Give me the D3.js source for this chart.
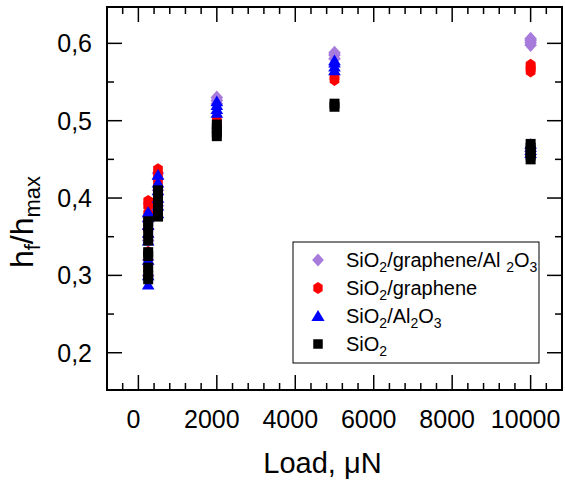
<!DOCTYPE html>
<html>
<head>
<meta charset="utf-8">
<script src="https://cdn.jsdelivr.net/npm/d3@7"></script>
<style>
  body { margin: 0; background: #fff; }
  text { font-family: "Liberation Sans", Arial, sans-serif; fill: #000; }
</style>
</head>
<body>
<svg width="565" height="483"></svg>
<script>
// loads in uN
var loads = [250, 500, 2000, 5000, 10000];
// h_f/h_max, one list per load
var sio2GrAl = [
  [0.30, 0.32, 0.345, 0.36, 0.375],
  [0.39, 0.41, 0.425, 0.432],
  [0.522, 0.526, 0.530],
  [0.580, 0.585, 0.588],
  [0.598, 0.601, 0.604, 0.606]
];
var sio2Gr = [
  [0.31, 0.33, 0.36, 0.38, 0.39, 0.396],
  [0.40, 0.42, 0.43, 0.437],
  [0.498, 0.503],
  [0.553, 0.557],
  [0.564, 0.567, 0.570, 0.572]
];
var sio2Al = [
  [0.288, 0.30, 0.32, 0.345, 0.355, 0.365, 0.375, 0.382],
  [0.38, 0.39, 0.40, 0.41, 0.42, 0.43],
  [0.510, 0.515, 0.520, 0.525],
  [0.565, 0.570, 0.575, 0.578],
  [0.458, 0.462, 0.466, 0.470]
];
var sio2 = [
  [0.295, 0.30, 0.31, 0.325, 0.33, 0.345, 0.355, 0.365, 0.37],
  [0.376, 0.385, 0.392, 0.40, 0.405, 0.41],
  [0.480, 0.485, 0.490, 0.495],
  [0.518, 0.522],
  [0.450, 0.455, 0.460, 0.465, 0.470]
];

var svg = d3.select("svg");
var pL = 107, pR = 562, pT = 7, pB = 390;

var x = d3.scaleLinear().domain([-800, 10800]).range([pL, pR]);
var y = d3.scaleLinear().domain([0.1518, 0.647]).range([pB, pT]);

// marker shapes
function diamond(s) { return "M0," + (-s) + "L" + (s * 0.9) + ",0L0," + s + "L" + (-s * 0.9) + ",0Z"; }
function hexagon(r) {
  var p = d3.path();
  for (var i = 0; i < 6; i++) {
    var a = Math.PI / 3 * i - Math.PI / 2;
    var px = Math.cos(a) * r * 0.9, py = Math.sin(a) * r;
    if (i == 0) p.moveTo(px, py); else p.lineTo(px, py);
  }
  p.closePath();
  return p.toString();
}
function triangle(w) { return "M0," + (-w * 0.5) + "L" + (w * 0.55) + "," + (w * 0.42) + "L" + (-w * 0.55) + "," + (w * 0.42) + "Z"; }
function square(w) { return "M" + (-w / 2) + "," + (-w / 2) + "h" + w + "v" + w + "h" + (-w) + "Z"; }

var series = [
  { data: sio2GrAl, color: "#A77BDB", shape: diamond(7), legShape: diamond(6.5) },
  { data: sio2Gr, color: "#FF0000", shape: hexagon(6.2), legShape: hexagon(6) },
  { data: sio2Al, color: "#0000FF", shape: triangle(11.5), legShape: triangle(12) },
  { data: sio2, color: "#000000", shape: square(10), legShape: square(9.5) }
];

series.forEach(function(s) {
  var pts = [];
  s.data.forEach(function(vals, i) {
    vals.forEach(function(v) { pts.push({ load: loads[i], v: v }); });
  });
  svg.append("g").selectAll("path")
    .data(pts)
    .enter().append("path")
    .attr("d", s.shape)
    .attr("fill", s.color)
    .attr("transform", function(d) { return "translate(" + x(d.load) + "," + y(d.v) + ")"; });
});

// axes, ticks inward on all sides
var xMajor = d3.range(0, 10001, 2000);
var xMinor = d3.range(-400, 10801, 400).filter(function(t) { return t % 2000 != 0; });
var yMajor = [0.2, 0.3, 0.4, 0.5, 0.6];
var yMinor = [0.25, 0.35, 0.45, 0.55];
var fmt = function(d) { return d3.format(".1f")(d).replace(".", ","); };

var ax = svg.append("g").attr("stroke", "#000").attr("stroke-width", 1.5);
function xt(list, len) {
  list.forEach(function(t) {
    ax.append("line").attr("x1", x(t)).attr("x2", x(t)).attr("y1", pB).attr("y2", pB - len);
    ax.append("line").attr("x1", x(t)).attr("x2", x(t)).attr("y1", pT).attr("y2", pT + len);
  });
}
function yt(list, len) {
  list.forEach(function(t) {
    ax.append("line").attr("y1", y(t)).attr("y2", y(t)).attr("x1", pL).attr("x2", pL + len);
    ax.append("line").attr("y1", y(t)).attr("y2", y(t)).attr("x1", pR).attr("x2", pR - len);
  });
}
xt(xMajor, 15); xt(xMinor, 7);
yt(yMajor, 15); yt(yMinor, 7);
ax.append("rect").attr("x", pL).attr("y", pT).attr("width", pR - pL).attr("height", pB - pT)
  .attr("fill", "none").attr("stroke-width", 2);

svg.append("g").selectAll("text").data(xMajor).enter().append("text")
  .attr("x", function(d) { return x(d) - 5; }).attr("y", 428)
  .attr("text-anchor", "middle").attr("font-size", 25).text(function(d) { return d; });
svg.append("g").selectAll("text").data(yMajor).enter().append("text")
  .attr("x", 92).attr("y", function(d) { return y(d) + 9; })
  .attr("text-anchor", "end").attr("font-size", 25).text(fmt);

svg.append("text").attr("x", (pL + pR) / 2 - 12).attr("y", 473)
  .attr("text-anchor", "middle").attr("font-size", 29).text("Load, \u03bcN");

var yl = svg.append("text").attr("transform", "translate(33,222) rotate(-90)")
  .attr("text-anchor", "middle").attr("font-size", 32);
yl.append("tspan").text("h");
yl.append("tspan").attr("font-size", 22).attr("dy", 7).text("f");
yl.append("tspan").attr("dy", -7).text("/h");
yl.append("tspan").attr("font-size", 22).attr("dy", 7).text("max");

// legend
var legNames = [
  [["SiO", 0], ["2", 1], ["/graphene/Al ", 0], ["2", 1], ["O", 0], ["3", 1]],
  [["SiO", 0], ["2", 1], ["/graphene", 0]],
  [["SiO", 0], ["2", 1], ["/Al", 0], ["2", 1], ["O", 0], ["3", 1]],
  [["SiO", 0], ["2", 1]]
];
var leg = svg.append("g");
leg.append("rect").attr("x", 293).attr("y", 242).attr("width", 246).attr("height", 121)
  .attr("fill", "#fff").attr("stroke", "#000").attr("stroke-width", 1);
series.forEach(function(s, i) {
  var ly = 260 + i * 28;
  leg.append("path").attr("d", s.legShape).attr("fill", s.color)
    .attr("transform", "translate(318," + ly + ")");
  var t = leg.append("text").attr("x", 346).attr("y", ly + 7).attr("font-size", 20);
  var sub = 0;
  legNames[i].forEach(function(p) {
    var ts = t.append("tspan").text(p[0]);
    if (p[1]) { ts.attr("font-size", 14).attr("dy", 5 - sub); sub = 5; }
    else { ts.attr("dy", -sub); sub = 0; }
  });
});
</script>
</body>
</html>
